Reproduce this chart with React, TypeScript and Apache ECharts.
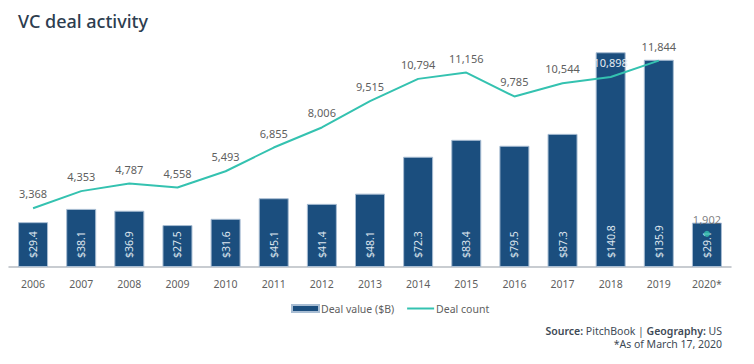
import React, { useEffect, useRef } from "react";
import * as echarts from "echarts";

const years = ["2006", "2007", "2008", "2009", "2010", "2011", "2012", "2013", "2014", "2015", "2016", "2017", "2018", "2019", "2020*"];
const dealValue = [29.4, 38.1, 36.9, 27.5, 31.6, 45.1, 41.4, 48.1, 72.3, 83.4, 79.5, 87.3, 140.8, 135.9, 29.1];
const dealCount = [3368, 4353, 4787, 4558, 5493, 6855, 8006, 9515, 10794, 11156, 9785, 10544, 10898, 11844, null];
const dealCount2020 = [null, null, null, null, null, null, null, null, null, null, null, null, null, null, 1902];

const FONT = "'Noto Sans', sans-serif";
const BAR = "#1b4e7e";
const LINE = "#34c2b0";
const GRAY = "#5f5f5f";

export default function App() {
  const ref = useRef<HTMLDivElement>(null);
  useEffect(() => {
    if (!ref.current) return;
    const chart = echarts.init(ref.current, null, { renderer: "svg" });
    const fmt = (v: number) => v.toLocaleString("en-US");
    chart.setOption({
      animation: false,
      backgroundColor: "#ffffff",
      textStyle: { fontFamily: FONT },
      title: {
        text: "VC deal activity",
        left: 13,
        top: 7,
        textStyle: { fontSize: 18, fontWeight: 500, color: "#2d3d4f", fontFamily: FONT },
      },
      legend: {
        data: [
          { name: "Deal value ($B)", icon: "rect" },
          { name: "Deal count", itemStyle: { opacity: 0 } },
        ],
        left: 286,
        top: 298,
        itemWidth: 27,
        itemHeight: 7,
        itemGap: 12,
        textStyle: { fontSize: 10.5, color: GRAY, padding: [0, 0, 0, -3] },
      },
      grid: { left: 9, right: 23, top: 23, bottom: 97 },
      xAxis: {
        type: "category",
        data: years,
        axisTick: { show: false },
        axisLine: { lineStyle: { color: "#b7bcc2", width: 1.5 } },
        axisLabel: { color: GRAY, fontSize: 10.5, margin: 11 },
      },
      yAxis: [
        { type: "value", min: 0, max: 160, show: false, splitLine: { show: false } },
        { type: "value", min: 0, max: 14000, show: false, splitLine: { show: false } },
      ],
      series: [
        {
          name: "Deal value ($B)",
          type: "bar",
          data: dealValue,
          barWidth: 30,
          itemStyle: { color: BAR, borderColor: "#a8bdd3", borderWidth: 1 },
          label: {
            show: true,
            position: "insideBottom",
            rotate: 90,
            align: "left",
            verticalAlign: "middle",
            distance: 9,
            fontSize: 10.5,
            color: "#dfe6ee",
            formatter: (p: any) => "$" + p.value.toFixed(1),
          },
        },
        {
          name: "Deal count",
          type: "line",
          yAxisIndex: 1,
          data: dealCount.map((v, i) =>
            i === 12 ? { value: v, label: { color: "#e6ecf2" } } : v
          ),
          symbol: "circle",
          showSymbol: true,
          symbolSize: 0,
          connectNulls: false,
          lineStyle: { color: LINE, width: 2 },
          itemStyle: { color: LINE },
          label: {
            show: true,
            position: "top",
            distance: 9,
            fontSize: 11,
            color: GRAY,
            formatter: (p: any) => fmt(p.value),
          },
        },
        {
          name: "Deal count 2020",
          type: "scatter",
          yAxisIndex: 1,
          data: dealCount2020,
          symbol: "circle",
          symbolSize: 6,
          itemStyle: { color: LINE },
          label: {
            show: true,
            position: "top",
            distance: 6,
            fontSize: 11,
            color: GRAY,
            formatter: (p: any) => fmt(p.value),
          },
        },
      ],
      graphic: [
        {
          type: "text",
          x: 722,
          y: 331,
          style: {
            text: "{b|Source:} PitchBook | {b|Geography:} US",
            align: "right",
            verticalAlign: "middle",
            fontSize: 10.5,
            fill: "#3e4a56",
            fontFamily: FONT,
            rich: {
              b: { fontWeight: 600, fontSize: 10.5, fill: "#3e4a56", fontFamily: FONT },
            },
          },
        },
        {
          type: "text",
          x: 722,
          y: 344,
          style: {
            text: "*As of March 17, 2020",
            align: "right",
            verticalAlign: "middle",
            fontSize: 10.5,
            fill: "#3e4a56",
            fontFamily: FONT,
          },
        },
      ],
    });
    return () => chart.dispose();
  }, []);
  return <div ref={ref} style={{ width: 754, height: 364, position: "absolute", left: 0, top: 0 }} />;
}
